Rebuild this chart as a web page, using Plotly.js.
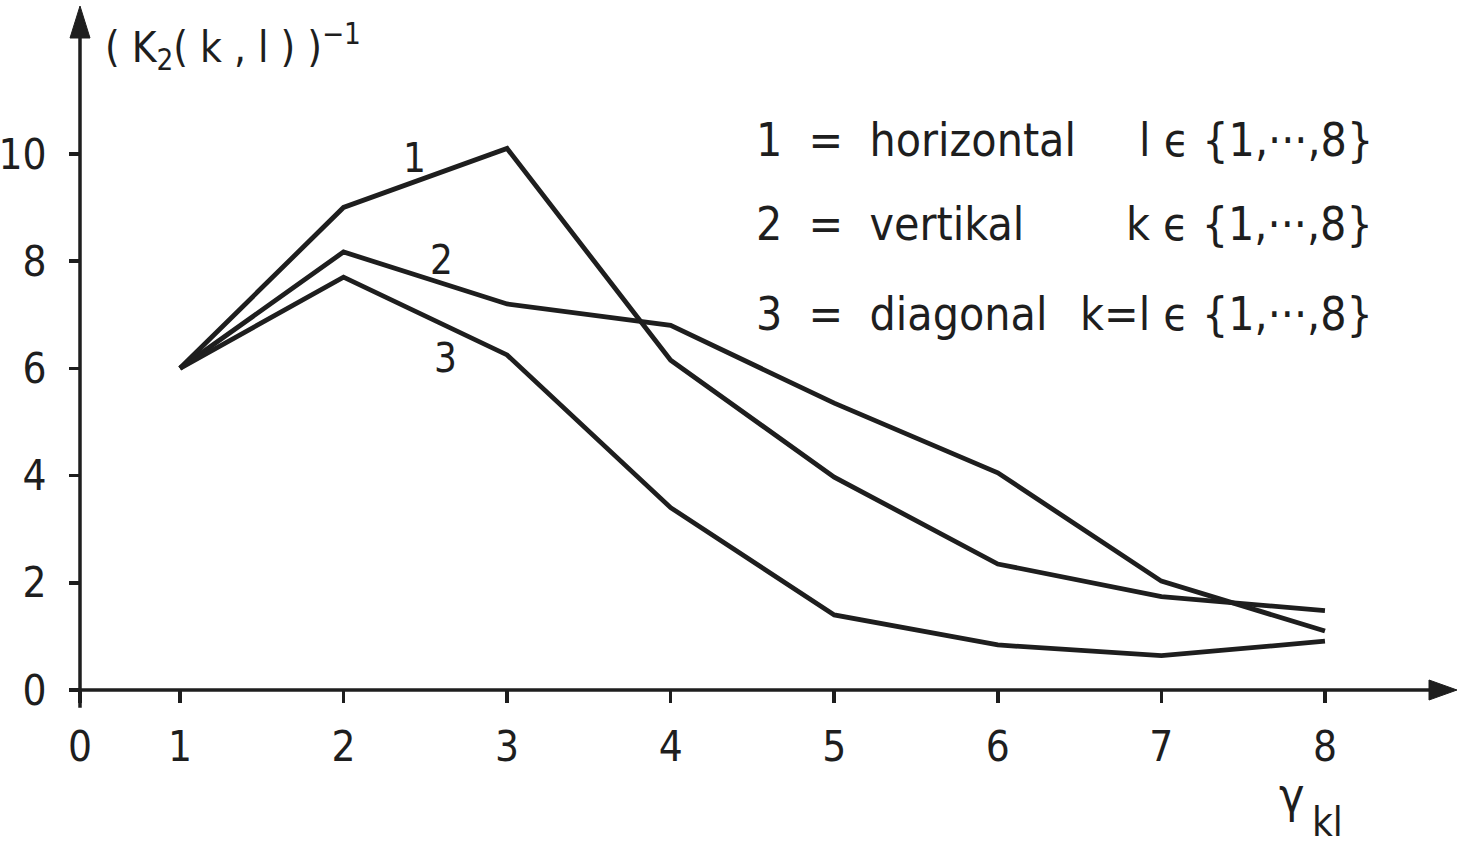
<!DOCTYPE html>
<html>
<head>
<meta charset="utf-8">
<script src="https://cdn.plot.ly/plotly-3.0.1.min.js"></script>
<style>
  html, body { margin: 0; padding: 0; background: #fff; }
  #chart { width: 1469px; height: 847px; }
</style>
</head>
<body>
<div id="chart"></div>
<script>
// valori
const gamma = [1, 2, 3, 4, 5, 6, 7, 8];
const horizontal = [6.0, 9.0, 10.1, 6.15, 3.97, 2.35, 1.74, 1.48];
const vertikal = [6.0, 8.17, 7.2, 6.8, 5.35, 4.05, 2.03, 1.1];
const diagonal = [6.0, 7.7, 6.25, 3.4, 1.4, 0.84, 0.64, 0.91];

const xTickVals = [0, 1, 2, 3, 4, 5, 6, 7, 8];
const xTickText = ['0', '1', '2', '3', '4', '5', '6', '7', '8'];
const yTickVals = [0, 2, 4, 6, 8, 10];

const nb = '\u00a0';
const legendLeft = [
    '1' + nb + nb + '=' + nb + nb + 'horizontal',
    '2' + nb + nb + '=' + nb + nb + 'vertikal',
    '3' + nb + nb + '=' + nb + nb + 'diagonal'
];
const legendRight = [
    'l' + nb + '\u03f5' + nb + '{1,\u00b7\u00b7\u00b7,8}',
    'k' + nb + '\u03f5' + nb + '{1,\u00b7\u00b7\u00b7,8}',
    'k=l' + nb + '\u03f5' + nb + '{1,\u00b7\u00b7\u00b7,8}'
];

const ink = '#1e1e1e';
const fontFam = '"Liberation Sans Narrow", "DejaVu Sans Condensed", "Liberation Sans", sans-serif';

// l'origine dell'asse x non sta a 0 (disegno a mano): x=1 a 180px, x=8 a 1325px
const xMin = 0.389;
const xMax = 8.795;
// la tacca "0" va all'origine
xTickVals[0] = xMin;

function lineTrace(y, name) {
    return {
        x: gamma,
        y: y,
        type: 'scatter',
        mode: 'lines',
        name: name,
        line: { color: ink, width: 4.8 },
        hoverinfo: 'skip'
    };
}

const traces = [
    lineTrace(horizontal, 'horizontal'),
    lineTrace(vertikal, 'vertikal'),
    lineTrace(diagonal, 'diagonal')
];

// assi disegnati come forme, con punta di freccia
const shapes = [
    {
        type: 'line', xref: 'paper', yref: 'paper',
        x0: -0.0073, x1: 0.99, y0: 0, y1: 0,
        line: { color: ink, width: 3.5 }
    },
    {
        type: 'line', xref: 'paper', yref: 'paper',
        x0: 0, x1: 0, y0: -0.026, y1: 0.96,
        line: { color: ink, width: 3.5 }
    },
    {
        type: 'path', xref: 'paper', yref: 'paper',
        xsizemode: 'pixel', ysizemode: 'pixel', xanchor: 1, yanchor: 0,
        path: 'M 2 0 L -26 -10 L -26 10 Z',
        fillcolor: ink, line: { color: ink, width: 1 }
    },
    {
        type: 'path', xref: 'paper', yref: 'paper',
        xsizemode: 'pixel', ysizemode: 'pixel', xanchor: 0, yanchor: 1,
        path: 'M 0 2 L -10 -30 L 10 -30 Z',
        fillcolor: ink, line: { color: ink, width: 1 }
    }
];

const annotations = [];

// titolo asse y
annotations.push({
    xref: 'paper', yref: 'paper', x: 0.017, y: 0.99,
    xanchor: 'left', yanchor: 'top', showarrow: false,
    text: '( K<sub>2</sub>( k , l ) )<sup>\u22121</sup>',
    font: { family: fontFam, size: 42, color: ink }
});

// titolo asse x: gamma con pedice grande come nell'originale
annotations.push({
    xref: 'paper', yref: 'paper', x: 0.8815, y: -0.154,
    xanchor: 'center', yanchor: 'middle', showarrow: false,
    text: '\u03b3',
    font: { family: fontFam, size: 48, color: ink }
});
annotations.push({
    xref: 'paper', yref: 'paper', x: 0.9076, y: -0.194,
    xanchor: 'center', yanchor: 'middle', showarrow: false,
    text: 'kl',
    font: { family: fontFam, size: 40, color: ink }
});

// etichette delle curve
const curveLabels = [['1', 0.243, 0.78], ['2', 0.263, 0.63], ['3', 0.266, 0.487]];
curveLabels.forEach(c => {
    annotations.push({
        xref: 'paper', yref: 'paper', x: c[1], y: c[2],
        xanchor: 'center', yanchor: 'middle', showarrow: false,
        text: c[0], font: { family: fontFam, size: 40, color: ink }
    });
});

// legenda scritta a mano
const legendY = [0.806, 0.684, 0.552];
legendLeft.forEach((t, i) => {
    annotations.push({
        xref: 'paper', yref: 'paper', x: 0.49, y: legendY[i],
        xanchor: 'left', yanchor: 'middle', showarrow: false,
        text: t, font: { family: fontFam, size: 46, color: ink }
    });
    annotations.push({
        xref: 'paper', yref: 'paper', x: 0.942, y: legendY[i],
        xanchor: 'right', yanchor: 'middle', showarrow: false,
        text: legendRight[i], font: { family: fontFam, size: 46, color: ink }
    });
});

const layout = {
    width: 1469,
    height: 847,
    margin: { l: 80, r: 14, t: 8, b: 157 },
    paper_bgcolor: '#fff',
    plot_bgcolor: '#fff',
    showlegend: false,
    font: { family: fontFam, size: 40, color: ink },
    xaxis: {
        range: [xMin, xMax],
        tickmode: 'array',
        tickvals: xTickVals,
        ticktext: xTickText,
        ticks: 'outside',
        ticklen: 12,
        tickwidth: 3.5,
        tickcolor: ink,
        showgrid: false,
        zeroline: false,
        showline: false,
        ticklabelstandoff: 8,
        tickfont: { family: fontFam, size: 42, color: ink }
    },
    yaxis: {
        range: [0, 12.72],
        tickmode: 'array',
        tickvals: yTickVals,
        ticks: 'outside',
        ticklen: 10,
        tickwidth: 3.5,
        tickcolor: ink,
        showgrid: false,
        zeroline: false,
        showline: false,
        ticklabelstandoff: 14,
        tickfont: { family: fontFam, size: 42, color: ink }
    },
    shapes: shapes,
    annotations: annotations
};

Plotly.newPlot('chart', traces, layout, { displayModeBar: false, staticPlot: true });
</script>
</body>
</html>
